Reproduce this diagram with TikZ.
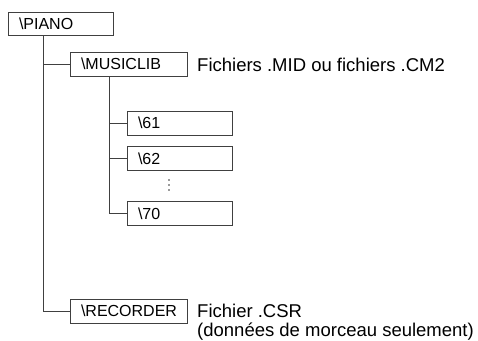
\documentclass[tikz,border=0pt]{standalone}
\usepackage{fontspec}
\setmainfont{Liberation Sans}
\begin{document}
\begin{tikzpicture}[x=1pt,y=-1pt,
  line/.style={draw=black!75, line width=0.8pt},
  dirbox/.style={draw=black!75, line width=0.8pt, rectangle, inner xsep=11pt, inner ysep=0pt,
     minimum height=24pt, font=\fontsize{16}{19}\selectfont, align=left},
  lbl/.style={inner sep=0pt, font=\fontsize{18.5}{22}\selectfont, anchor=base west}]
\useasboundingbox (0,0) rectangle (478,340);
% boxes
\node[dirbox, minimum height=23pt, text width=83pt] (piano) at (60.5,23.5) {\textbackslash PIANO};
\node[dirbox, text width=95pt] (musiclib) at (128.5,64) {\textbackslash MUSICLIB};
\node[dirbox, text width=83pt] (d61) at (179.5,123) {\textbackslash 61};
\node[dirbox, text width=83pt] (d62) at (179.5,158.5) {\textbackslash 62};
\node[dirbox, text width=83pt] (d70) at (179.5,213.5) {\textbackslash 70};
\node[dirbox, text width=95pt] (recorder) at (128.5,311) {\textbackslash RECORDER};
% labels
\node[lbl] (lmid) at (197,71) {Fichiers .MID ou fichiers .CM2};
\node[lbl] (lcsr1) at (197,317) {Fichier .CSR};
\node[lbl] (lcsr2) at (197,336) {(données de morceau seulement)};
% connectors
\coordinate (pv) at ([xshift=36pt]piano.south west);
\coordinate (mv) at ([xshift=40pt]musiclib.south west);
\draw[line] (pv) -- (pv |- recorder.west) -- (recorder.west);
\draw[line] (pv |- musiclib.west) -- (musiclib.west);
\draw[line] (mv) -- (mv |- d70.west) -- (d70.west);
\draw[line] (mv |- d61.west) -- (d61.west);
\draw[line] (mv |- d62.west) -- (d62.west);
% vertical ellipsis
\foreach \yy in {180,185,190} \fill[black!80] (169,\yy) circle (0.9pt);
\end{tikzpicture}
\end{document}
